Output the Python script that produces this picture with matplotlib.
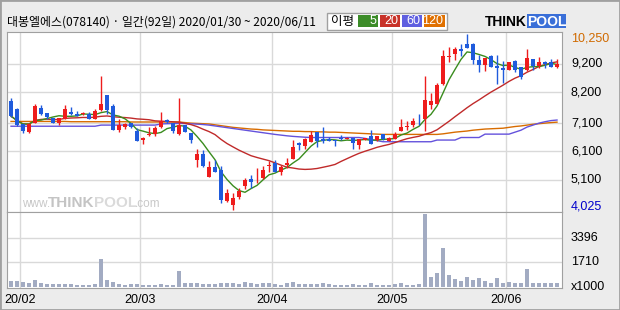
import numpy as np
import pandas as pd
import matplotlib
matplotlib.use("Agg")
import matplotlib.pyplot as plt
from matplotlib.patches import Rectangle

plt.rcParams['font.family'] = ['Noto Sans CJK KR', 'DejaVu Sans']

# daily candles 2020/01/30 ~ 2020/06/11 (92 trading days)
opens = [7880, 7600, 7060, 6790, 7110, 7630, 7450, 7270, 7110, 7240,
         7500, 7420, 7420, 7420, 7240, 7560, 8090, 7700, 6850, 6970,
         7100, 6820, 6500, 6680, 6710, 6950, 7220, 7100, 6700, 7030,
         6750, 5810, 6000, 5200, 5550, 5440, 4340, 4200, 4490, 4880,
         5130, 5180, 5170, 5590, 5670, 5380, 5610, 5840, 6390, 6290,
         6440, 6780, 6520, 6520, 6500, 6560, 6530, 6560, 6310, 6510,
         6640, 6500, 6710, 6460, 6530, 6830, 6960, 7030, 7140, 7240,
         7740, 7780, 8480, 9460, 9540, 9740, 9920, 9920, 9350, 9170,
         9470, 9120, 9050, 8990, 9320, 9080, 8980, 9370, 9140, 9250,
         9250, 9090]
highs = [8000, 7620, 7080, 7110, 7770, 7740, 7470, 7280, 7290, 7740,
         7670, 7540, 7480, 7490, 7600, 8760, 8110, 7770, 7240, 7110,
         7120, 6940, 6620, 6950, 6990, 7490, 7250, 7110, 7990, 7040,
         6760, 6180, 6140, 5770, 5810, 5580, 4760, 4630, 4790, 5140,
         5260, 5520, 5580, 5770, 5790, 5610, 5850, 6500, 6440, 6590,
         6820, 6800, 6950, 6620, 6510, 6680, 6610, 6570, 6550, 6580,
         6850, 6640, 6730, 6600, 6780, 7240, 7180, 7270, 7440, 8760,
         8160, 8540, 9710, 9790, 9800, 9890, 10250, 9940, 9500, 9420,
         9510, 9510, 9310, 9280, 9330, 9100, 9720, 9380, 9440, 9300,
         9390, 9370]
lows = [7330, 6990, 6760, 6760, 7100, 7400, 7240, 7100, 7040, 7230,
        7400, 7350, 7400, 7230, 7230, 7540, 7420, 6840, 6790, 6900,
        6940, 6450, 6370, 6640, 6640, 6930, 7120, 6760, 6690, 6780,
        6400, 5550, 5560, 5190, 5360, 4260, 4320, 4025, 4410, 4760,
        4810, 4960, 5110, 5380, 5360, 5260, 5500, 5820, 6140, 6200,
        6420, 6240, 6400, 6450, 6300, 6510, 6520, 6200, 6190, 6500,
        6350, 6480, 6500, 6450, 6520, 6810, 6850, 6970, 7030, 6830,
        7600, 7770, 8460, 9270, 9350, 9470, 9750, 9180, 8920, 8950,
        9080, 8480, 8540, 8970, 8920, 8670, 8960, 9000, 9060, 9060,
        9080, 9060]
closes = [7350, 7030, 6830, 7060, 7700, 7420, 7300, 7110, 7280, 7600,
          7420, 7370, 7450, 7240, 7530, 7770, 7560, 6850, 7020, 7060,
          6960, 6460, 6580, 6720, 6920, 7170, 7140, 6830, 7020, 6790,
          6500, 6000, 5580, 5550, 5380, 4370, 4630, 4460, 4700, 5080,
          5020, 5200, 5440, 5600, 5380, 5550, 5670, 6240, 6310, 6520,
          6680, 6470, 6460, 6460, 6460, 6520, 6590, 6400, 6530, 6570,
          6370, 6630, 6520, 6580, 6700, 6960, 6980, 7170, 7130, 7910,
          7880, 8450, 9470, 9480, 9740, 9660, 9770, 9330, 9170, 9400,
          9090, 9060, 8990, 9260, 8990, 8740, 9400, 9120, 9280, 9210,
          9090, 9200]
volumes = [368, 368, 299, 230, 437, 230, 161, 161, 161, 207,
           161, 92, 92, 92, 161, 1932, 437, 345, 207, 92,
           161, 161, 92, 92, 92, 161, 92, 92, 1104, 230,
           230, 230, 161, 161, 161, 230, 230, 230, 161, 299,
           230, 161, 230, 230, 161, 92, 230, 299, 161, 161,
           161, 161, 230, 161, 92, 92, 92, 161, 92, 92,
           230, 92, 92, 92, 161, 230, 92, 92, 161, 5037,
           644, 920, 2714, 782, 506, 368, 644, 437, 575, 368,
           230, 575, 230, 299, 230, 230, 1196, 230, 230, 230,
           230, 230]
ma60 = [6990, 6990, 6990, 6990, 6990, 6990, 6990, 6990, 6990, 6990,
        6990, 6990, 6990, 6990, 6990, 7030, 7030, 7030, 7030, 7030,
        7030, 7030, 7030, 7030, 7030, 7070, 7080, 7085, 7090, 7085,
        7075, 7065, 7050, 7030, 7000, 6970, 6940, 6910, 6880, 6850,
        6820, 6790, 6760, 6730, 6700, 6675, 6650, 6630, 6615, 6600,
        6590, 6590, 6590, 6590, 6590, 6590, 6590, 6590, 6590, 6560,
        6520, 6480, 6440, 6440, 6440, 6440, 6440, 6440, 6440, 6440,
        6440, 6500, 6500, 6500, 6500, 6590, 6590, 6590, 6590, 6710,
        6710, 6710, 6710, 6710, 6780, 6850, 6960, 7030, 7100, 7150,
        7190, 7210]
ma120 = [7160, 7160, 7160, 7160, 7160, 7160, 7160, 7160, 7160, 7160,
         7150, 7150, 7150, 7150, 7150, 7150, 7150, 7150, 7150, 7150,
         7140, 7140, 7140, 7140, 7140, 7140, 7140, 7140, 7140, 7120,
         7100, 7090, 7080, 7070, 7040, 7010, 6980, 6950, 6930, 6910,
         6890, 6880, 6860, 6850, 6840, 6830, 6820, 6810, 6810, 6800,
         6800, 6790, 6790, 6780, 6780, 6770, 6760, 6750, 6740, 6730,
         6720, 6710, 6700, 6700, 6700, 6700, 6700, 6700, 6700, 6700,
         6700, 6700, 6720, 6750, 6780, 6800, 6820, 6850, 6870, 6890,
         6900, 6910, 6920, 6950, 6980, 7000, 7030, 7060, 7080, 7100,
         7120, 7135]

month_idx = [2, 22, 44, 64, 83]
month_labels = ["20/02", "20/03", "20/04", "20/05", "20/06"]
price_ticks = [9200, 8200, 7100, 6100, 5100]
vol_ticks = [3396, 1710]
title = "대봉엘에스(078140) · 일간(92일) 2020/01/30 ~ 2020/06/11"

RED = "#ee1c1c"
BLUE = "#1f5bdc"
GRID = "#d9d9d9"
FRAME = "#a0a0a0"

W, H = 620, 310
def box(l, t, r, b):
    return [l / W, 1 - b / H, (r - l) / W, (b - t) / H]

fig = plt.figure(figsize=(6.2, 3.1), dpi=100, facecolor="#ececec")
ax = fig.add_axes(box(7, 32, 562, 212))
axv = fig.add_axes(box(7, 212, 562, 288), sharex=ax)

x = np.arange(len(closes))
o = np.array(opens)
c = np.array(closes)
col = np.where(c >= o, RED, BLUE)

ma5 = pd.Series(closes).rolling(5, min_periods=1).mean()
ma20 = pd.Series(closes).rolling(20, min_periods=1).mean()

for a in (ax, axv):
    for m in month_idx:
        a.axvline(m - 0.5, color=GRID, lw=1, zorder=0)
    for s in a.spines.values():
        s.set_color(FRAME)
    a.tick_params(length=0, labelleft=False, labelbottom=False)
    a.set_yticks([])
for p in price_ticks:
    ax.axhline(p, color=GRID, lw=1, zorder=0)
for v in vol_ticks:
    axv.axhline(v, color=GRID, lw=1, zorder=0)

ax.plot(x, ma120, color="#d86c00", lw=1, zorder=1)
ax.plot(x, ma60, color="#6452dc", lw=1, zorder=1)
ax.plot(x, ma20, color="#c02a2a", lw=1, zorder=1)
ax.plot(x, ma5, color="#3a8c1e", lw=1, zorder=1)

ax.vlines(x, lows, highs, colors=col, lw=1, zorder=2)
ax.bar(x, np.maximum(np.abs(c - o), 25), bottom=np.minimum(o, c),
       width=0.72, color=col, lw=0, zorder=3)

axv.bar(x, volumes, width=0.72, color="#a2abc2", lw=0, zorder=2)

ax.set_xlim(-0.67, 91.83)
ax.set_ylim(3949, 10331)
axv.set_ylim(-90, 5175)
axv.set_xticks([])

num = dict(family=["Liberation Sans", "DejaVu Sans"], fontsize=9)
yt = ax.get_yaxis_transform()
for p in price_ticks:
    ax.text(1.016, p, f"{p:,}", transform=yt, va="center", ha="left", **num)
ax.text(1.016, 10110, "10,250", transform=yt, va="center", ha="left", color="#d06a00", **num)
ax.text(1.016, 4130, "4,025", transform=yt, va="center", ha="left", color="#0000cc", **num)
yv = axv.get_yaxis_transform()
for v in vol_ticks:
    axv.text(1.016, v, str(v), transform=yv, va="center", ha="left", **num)
axv.text(1.016, 0, "x1000", transform=yv, va="center", ha="left", **num)
xt = axv.get_xaxis_transform()
for m, lab in zip(month_idx, month_labels):
    axv.text(m - 0.5, -0.16, lab, transform=xt, ha="center", va="center", **num)

# header
fig.text(7 / W, 1 - 22.5 / H, title, fontsize=8.6, va="center", ha="left")
fig.add_artist(Rectangle((327 / W, 1 - 30 / H), 120 / W, 17 / H, transform=fig.transFigure,
                         facecolor="white", edgecolor=FRAME, lw=1))
fig.text(331 / W, 1 - 21.5 / H, "이평", fontsize=9, va="center", ha="left")
for l, r, cc, t in [(358, 378, "#3c8c28", "5"), (380, 400, "#c83228", "20"),
                    (402, 422, "#6060e0", "60"), (424, 445, "#e07000", "120")]:
    fig.add_artist(Rectangle((l / W, 1 - 27 / H), (r - l) / W, 12 / H,
                             transform=fig.transFigure, facecolor=cc, lw=0))
    fig.text((r - 1.5) / W, 1 - 21.5 / H, t, color="white", va="center", ha="right", **num)

fig.add_artist(Rectangle((527 / W, 1 - 28 / H), 39 / W, 14 / H, transform=fig.transFigure,
                         facecolor="#3a6fd8", lw=0))
fig.text(527 / W, 1 - 21.5 / H, "THINK", fontsize=10, fontweight="bold",
         family=["Liberation Sans"], va="center", ha="right")
fig.text(546.5 / W, 1 - 21.5 / H, "POOL", fontsize=10, fontweight="bold", color="white",
         family=["Liberation Sans"], va="center", ha="center")

# watermark
fig.text(22 / W, 1 - 204 / H, "www.", fontsize=8.5, color="#c8c8c8", va="center", ha="left",
         family=["Liberation Sans"])
fig.text(48 / W, 1 - 203 / H, "THINK", fontsize=11, fontweight="bold", color="#c4c4c4",
         va="center", ha="left", family=["Liberation Sans"])
fig.text(94 / W, 1 - 203 / H, "POOL", fontsize=11, fontweight="bold", color="#dadada",
         va="center", ha="left", family=["Liberation Sans"])
fig.text(135 / W, 1 - 204 / H, ".com", fontsize=8.5, color="#c8c8c8", va="center", ha="left",
         family=["Liberation Sans"])

fig.add_artist(Rectangle((0, 0), 1, 1, transform=fig.transFigure, fill=False,
                         edgecolor=FRAME, lw=2))

fig.savefig("out.png", dpi=100, facecolor=fig.get_facecolor())
